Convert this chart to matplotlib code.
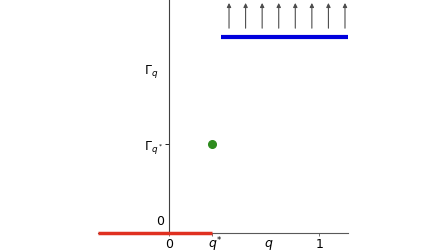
import matplotlib
matplotlib.use("Agg")
import matplotlib.pyplot as plt
import numpy as np

# data
q_star = 0.29
x_left, x_right = -0.47, 1.19
gamma_q = 1.0
gamma_qstar = 0.454
red_x = [x_left, q_star]
red_y = [0.0, 0.0]
blue_x = [0.345, x_right]
blue_y = [gamma_q, gamma_q]
arrow_x = [0.40, 0.51, 0.62, 0.73, 0.84, 0.95, 1.06, 1.17]
arrow_base = 1.046
arrow_tip = 1.175
xtick_pos = [0, q_star, 0.665, 1]
xtick_labels = ['0', '$q$', '$q$', '1']

fig = plt.figure(figsize=(4.48, 2.52), dpi=100)
ax = fig.add_axes([98/448, 19/252, 250/448, 233/252])
ax.set_xlim(x_left, x_right)
ax.set_ylim(0, 1.19)

ax.spines['top'].set_visible(False)
ax.spines['right'].set_visible(False)
ax.spines['left'].set_position(('data', 0))
ax.spines['left'].set_linewidth(0.8)
ax.spines['bottom'].set_linewidth(0.8)
ax.spines['bottom'].set_color('0.35')
ax.spines['left'].set_color('0.25')

ax.plot(red_x, red_y, color='#e03020', lw=2.5, solid_capstyle='butt', clip_on=False, zorder=3)
ax.plot(blue_x, blue_y, color='#0000dd', lw=3, solid_capstyle='butt', clip_on=False, zorder=3)
ax.plot([q_star], [gamma_qstar], 'o', color='#2e8b1e', markersize=5.5, zorder=4)

for xa in arrow_x:
    ax.annotate('', xy=(xa, arrow_tip), xytext=(xa, arrow_base),
                arrowprops=dict(arrowstyle='-|>', color='0.3', lw=0.8,
                                mutation_scale=6, shrinkA=0, shrinkB=0),
                annotation_clip=False)

ax.set_xticks(xtick_pos)
ax.set_xticklabels(xtick_labels, fontsize=9)
ax.tick_params(axis='x', length=2, width=0.6, color='0.35', pad=1.5)
ax.xaxis.get_major_ticks()[2].tick1line.set_visible(False)

# superscript star of q*
ax.annotate('*', xy=(q_star, 0), xycoords=('data', 'axes fraction'),
            xytext=(3.2, -2.5), textcoords='offset points', ha='left', va='top',
            fontsize=6, annotation_clip=False)

ax.set_yticks([gamma_qstar])
ax.set_yticklabels([r'$\Gamma_{q^*}$'], fontsize=9)
ax.tick_params(axis='y', length=3, width=0.6, pad=1)

ax.text(-0.03, 0.06, '0', fontsize=9, ha='right', va='center')
ax.text(-0.07, 0.826, r'$\Gamma_q$', fontsize=9, ha='right', va='center')

fig.savefig('out.png', dpi=100)
